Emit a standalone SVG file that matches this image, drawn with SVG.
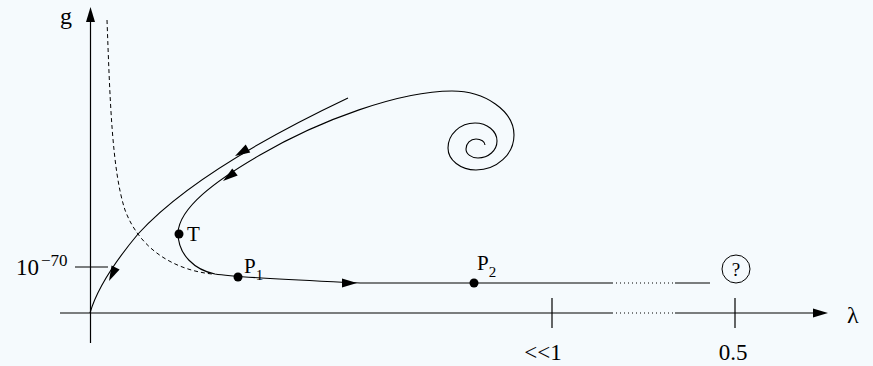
<svg xmlns="http://www.w3.org/2000/svg" width="873" height="366" viewBox="0 0 873 366">
<style>
.ln{fill:none;stroke:#000;stroke-width:1.1}
.ax{fill:none;stroke:#000;stroke-width:1.2}
.dash{fill:none;stroke:#000;stroke-width:1;stroke-dasharray:4,3}
.dot{fill:none;stroke:#000;stroke-width:1.1;stroke-dasharray:1,3}
text{font-family:'Liberation Serif','Times New Roman',Times,serif;fill:#000}
.pt{fill:#000}
</style>
<defs>
<path id="ah" d="M0,0 L-15,-4.5 L-15,4.5 Z" fill="#000"/>
</defs>
<rect width="873" height="366" fill="#f5fafd"/>
<g id="axes">
<line class="ax" x1="90.5" y1="343" x2="90.5" y2="18"/>
<use href="#ah" transform="translate(90.5,7) rotate(-90)"/>
<line class="ax" x1="60" y1="313" x2="612" y2="313"/>
<line class="dot" x1="612" y1="313" x2="675" y2="313"/>
<line class="ax" x1="675" y1="313" x2="816" y2="313"/>
<use href="#ah" transform="translate(828,313)"/>
<line class="ax" x1="552" y1="298" x2="552" y2="328"/>
<line class="ax" x1="735" y1="298" x2="735" y2="328"/>
<line class="ln" x1="75" y1="267" x2="108" y2="267"/>
<text font-family="Liberation Serif" x="60" y="24" font-size="24">g</text>
<text font-family="Liberation Serif" x="847" y="323" font-size="24">λ</text>
<text font-family="Liberation Serif" x="543" y="360" font-size="23" text-anchor="middle">&lt;&lt;1</text>
<text font-family="Liberation Serif" x="733" y="360" font-size="23" text-anchor="middle">0.5</text>
<text font-family="Liberation Serif" x="16" y="275" font-size="23">10</text>
<text font-family="Liberation Serif" x="41" y="266" font-size="17">−70</text>
</g>
<g id="connectors">
<path id="separatrix" class="dash" d="M107,20 C110,100 112,170 125,210 C140,250 175,270 212,274"/>
<path id="curve1" class="ln" d="M348,98 C270,135 185,182 138,234 C118,258 98,285 90,313"/>
<path id="curve2" class="ln" d="M485,145 C485,141.7 481,139 476,139 C470.5,139 466,143.5 466,149 C466,154 471.4,158 478,158 C488.5,158 497,150.4 497,141 C497,131.1 487.1,123 475,123 C460.1,123 448,134.25 448,148 C448,160.1 460.6,170 476,170 C496.9,170 514,154.25 514,135 C514,110.8 485,91 452,91 C400,91 320,120 260,155 C215,181 179,208 178,233 C178,255 195,270 215,274 C240,278 320,281 360,283 L612,283"/>
<line class="dot" x1="612" y1="283" x2="675" y2="283"/>
<line class="ln" x1="675" y1="283" x2="710" y2="283"/>
<use href="#ah" transform="translate(235,156) rotate(150)"/>
<use href="#ah" transform="translate(223,181) rotate(143)"/>
<use href="#ah" transform="translate(109,281) rotate(116)"/>
<use href="#ah" transform="translate(357,283)"/>
</g>
<g id="T">
<circle class="pt" cx="179" cy="234" r="4.5"/>
<text font-family="Liberation Serif" x="187" y="241" font-size="21">T</text>
</g>
<g id="P1">
<circle class="pt" cx="238" cy="277" r="4.5"/>
<text font-family="Liberation Serif" x="244" y="273" font-size="21">P<tspan font-size="15" dy="7">1</tspan></text>
</g>
<g id="P2">
<circle class="pt" cx="474" cy="283" r="4.5"/>
<text font-family="Liberation Serif" x="477" y="270" font-size="21">P<tspan font-size="15" dy="7">2</tspan></text>
</g>
<g id="Q">
<circle cx="736" cy="269" r="14" fill="none" stroke="#000" stroke-width="1"/>
<text font-family="Liberation Serif" x="736" y="276" font-size="19" text-anchor="middle">?</text>
</g>
</svg>
